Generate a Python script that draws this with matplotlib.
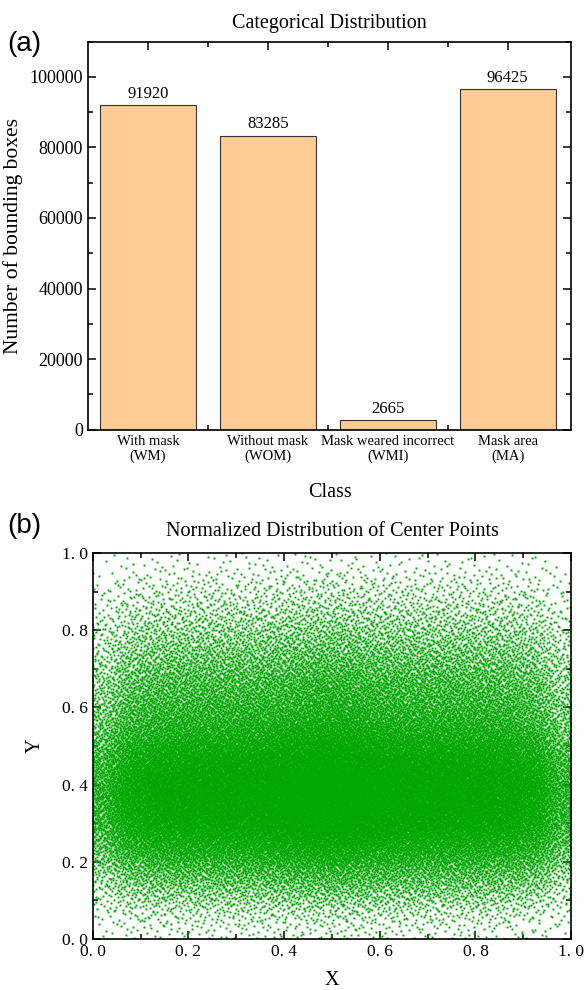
import numpy as np
import matplotlib.pyplot as plt
from matplotlib.ticker import MultipleLocator, FixedLocator

# panel (a): bounding boxes per class
classes = ["With mask\n(WM)", "Without mask\n(WOM)",
           "Mask weared incorrect\n(WMI)", "Mask area\n(MA)"]
box_counts = [91920, 83285, 2665, 96425]

# panel (b): centre points, read off the picture as a density estimate
# (the single points cannot be read, only how dense they are)
x_centers = np.arange(0.025, 1, 0.05)
x_weight = [0.4, 0.72, 0.85, 0.9, 0.92, 0.94, 0.96, 1.0, 1.08, 1.15,
            1.15, 1.06, 1.0, 0.97, 0.95, 0.93, 0.9, 0.85, 0.72, 0.4]
y_centers = np.arange(0.025, 1, 0.05)
y_count = [220, 560, 1300, 2300, 4000, 5800, 7000, 7500, 7000, 5800,
           4300, 3300, 2700, 2200, 1650, 1200, 820, 500, 290, 100]


def radical_inverse(idx, base):
    """Van der Corput value of each index in the given base."""
    out = np.zeros(len(idx))
    f = 1.0 / base
    i = idx.copy()
    while np.any(i > 0):
        out += f * (i % base)
        i //= base
        f /= base
    return out


def spread(u, centers, weight):
    """Map 0..1 values through the inverse cdf of the estimated density."""
    grid = np.linspace(0, 1, 2001)
    dens = np.interp(grid, centers, weight)
    cdf = np.concatenate([[0], np.cumsum((dens[1:] + dens[:-1]) / 2)])
    cdf = cdf / cdf[-1]
    return np.interp(u, cdf, grid)


n_pts = int(sum(y_count))
idx = np.arange(1, n_pts + 1)
px = spread(radical_inverse(idx, 2), x_centers, x_weight)
py = spread(radical_inverse(idx, 3), y_centers, y_count)

plt.rcParams["font.family"] = "Liberation Serif"

fig = plt.figure(figsize=(5.87, 9.9), dpi=100)

# ---- (a) bar chart
ax1 = fig.add_axes([0.150, 0.566, 0.823, 0.392])
pos = np.arange(len(classes))
bars = ax1.bar(pos, box_counts, width=0.8, color="#FDCB93",
               edgecolor="#333333", linewidth=0.8, zorder=2)
for b, v in zip(bars, box_counts):
    ax1.text(b.get_x() + b.get_width() / 2, v + 1000, str(v),
             ha="center", va="bottom", fontsize=12)
ax1.set_xlim(-0.5, 3.53)
ax1.set_ylim(0, 110000)
ax1.set_xticks(pos)
ax1.set_xticklabels(classes)
ax1.xaxis.set_minor_locator(FixedLocator([0.5, 1.5, 2.5]))
ax1.yaxis.set_major_locator(MultipleLocator(20000))
ax1.yaxis.set_minor_locator(MultipleLocator(10000))
ax1.tick_params(which="both", direction="in", top=True, right=True,
                labelsize=13, width=1.1)
ax1.tick_params(axis="x", labelsize=10.5)
ax1.tick_params(which="major", length=6)
ax1.tick_params(which="minor", length=3.5)
for s in ax1.spines.values():
    s.set_linewidth(1.2)
ax1.set_title("Categorical Distribution", fontsize=14.5, pad=10)
ax1.set_xlabel("Class", fontsize=14.5, labelpad=14)
ax1.set_ylabel("Number of bounding boxes", fontsize=15.5, labelpad=5)
fig.text(0.012, 0.948, "(a)", fontsize=20, family="Liberation Sans")

# ---- (b) scatter of normalised centre points
ax2 = fig.add_axes([0.158, 0.0515, 0.815, 0.39])
ax2.plot(px, py, ls="none", marker="s", markersize=1.4, mew=0,
         color="#00A800", rasterized=True)
ax2.set_xlim(0, 1)
ax2.set_ylim(0, 1)
ticks = np.arange(0, 1.01, 0.2)
labels = [("%.1f" % t).replace(".", ". ") for t in ticks]
ax2.set_xticks(ticks)
ax2.set_xticklabels(labels)
ax2.set_yticks(ticks)
ax2.set_yticklabels(labels)
ax2.xaxis.set_minor_locator(MultipleLocator(0.1))
ax2.yaxis.set_minor_locator(MultipleLocator(0.1))
ax2.tick_params(which="both", direction="in", top=True, right=True,
                labelsize=12.5, width=1.1)
ax2.tick_params(which="major", length=5.5)
ax2.tick_params(which="minor", length=3.5)
for s in ax2.spines.values():
    s.set_linewidth(1.2)
ax2.set_title("Normalized Distribution of Center Points", fontsize=14.5,
              pad=12)
ax2.set_xlabel("X", fontsize=14.5, labelpad=8)
ax2.set_ylabel("Y", fontsize=14.5, labelpad=12)
fig.text(0.012, 0.462, "(b)", fontsize=20, family="Liberation Sans")

fig.savefig("out.png", dpi=100)
